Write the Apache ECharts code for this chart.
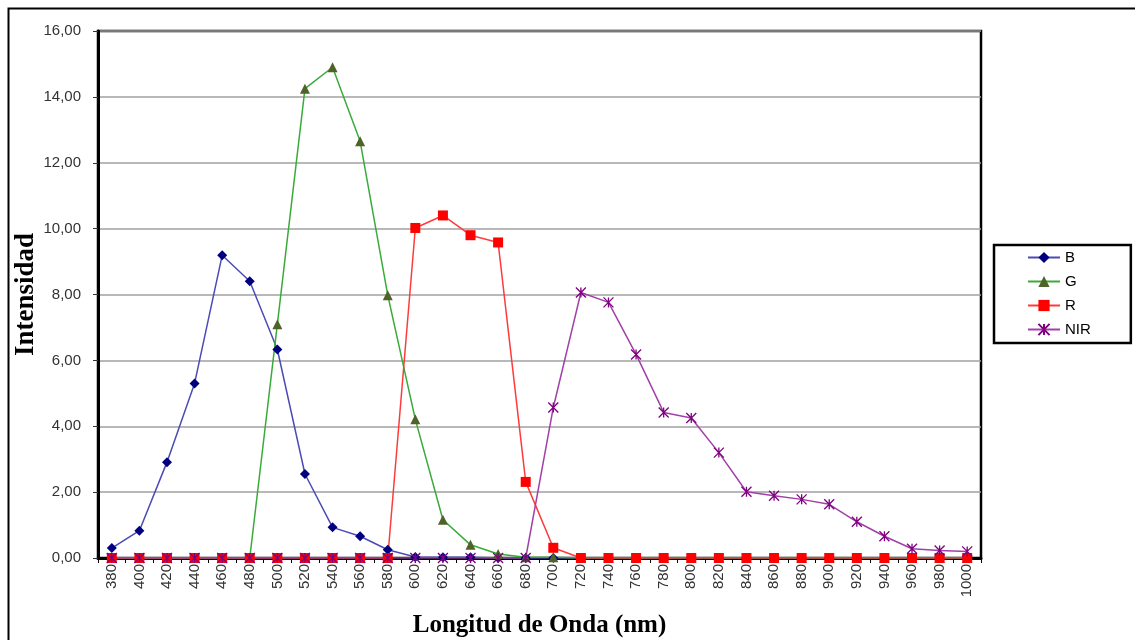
<!DOCTYPE html>
<html>
<head>
<meta charset="utf-8">
<script src="https://cdn.jsdelivr.net/npm/echarts@6/dist/echarts.min.js"></script>
<style>
html,body{margin:0;padding:0;background:#fff;}
#chart{width:1135px;height:640px;}
</style>
</head>
<body>
<div id="chart"></div>
<script>
var categories = ['380','400','420','440','460','480','500','520','540','560','580','600','620','640','660','680','700','720','740','760','780','800','820','840','860','880','900','920','940','960','980','1000'];
var bValues = [0.30,0.83,2.91,5.30,9.19,8.40,6.33,2.55,0.93,0.66,0.25,0.03,0.02,0.02,0,0,0,0,0,0,0,0,0,0,0,0,0,0,0,0,0,0];
var gValues = [0,0,0,0,0,0,7.10,14.25,14.90,12.65,7.98,4.21,1.16,0.40,0.12,0.02,0.02,0,0,0,0,0,0,0,0,0,0,0,0,0,0,0];
var rValues = [0,0,0,0,0,0,0,0,0,0,0,10.02,10.40,9.80,9.58,2.31,0.31,0,0,0,0,0,0,0,0,0,0,0,0,0,0,0];
var nirValues = [0,0,0,0,0,0,0,0,0,0,0,0,0,0,0,0,4.57,8.06,7.76,6.18,4.42,4.25,3.20,2.01,1.89,1.78,1.63,1.10,0.66,0.28,0.23,0.20];
var yTicks = [0,2,4,6,8,10,12,14,16];

var chart = echarts.init(document.getElementById('chart'), null, {renderer:'canvas'});
var starPath = 'path://M0,0L10,10M10,0L0,10M5,0L5,10';
function mk(name, data, lineColor, symbol, size, markColor, extra){
  return {
    name: name, type: 'line', data: data, showAllSymbol: true,
    symbol: symbol, symbolSize: size,
    lineStyle: {color: lineColor, width: 1.5},
    itemStyle: Object.assign({color: markColor}, extra || {}),
    emphasis: {disabled: true}
  };
}
chart.setOption({
  animation: false,
  backgroundColor: '#fff',
  grid: {left: 98, top: 31, right: 154, bottom: 82, show: true, borderColor: '#000', borderWidth: 2.5,
         containLabel: false, outerBoundsMode: 'none'},
  legend: {
    orient: 'vertical', left: 994, top: 245,
    data: ['B','G','R','NIR'],
    itemWidth: 32, itemHeight: 14, itemGap: 9,
    padding: [5, 40, 6, 33],
    borderColor: '#000', borderWidth: 2.5,
    textStyle: {fontFamily: 'Liberation Sans, Arial', fontSize: 15, color: '#000'}
  },
  xAxis: {
    type: 'category', data: categories, boundaryGap: true,
    name: 'Longitud de Onda (nm)', nameLocation: 'middle', nameGap: 55,
    nameTextStyle: {fontFamily: 'Liberation Serif, Times New Roman', fontWeight: 'bold', fontSize: 25, color: '#000'},
    axisLine: {lineStyle: {color: '#000', width: 3}},
    axisTick: {show: true, interval: 0, length: 5, lineStyle: {color: '#000', width: 1}},
    axisLabel: {interval: 0, rotate: 90, margin: 6, fontFamily: 'Liberation Sans, Arial', fontSize: 15, color: '#333'},
    splitLine: {show: false}
  },
  yAxis: {
    type: 'value', min: 0, max: 16, interval: 2,
    name: 'Intensidad', nameLocation: 'middle', nameRotate: 90, nameGap: 58, nameMoveOverlap: false,
    nameTextStyle: {fontFamily: 'Liberation Serif, Times New Roman', fontWeight: 'bold', fontSize: 27, color: '#000'},
    axisLine: {show: true, lineStyle: {color: '#000', width: 3}},
    axisTick: {show: true, length: 5, lineStyle: {color: '#333', width: 1}},
    axisLabel: {margin: 17, fontFamily: 'Liberation Sans, Arial', fontSize: 15, color: '#333',
      formatter: function(v){ return v.toFixed(2).replace('.', ','); }},
    splitLine: {show: true, lineStyle: {color: '#a0a0a0', width: 1.5}}
  },
  graphic: [{
    type: 'rect', left: 6, top: 6, silent: true, z: -1,
    shape: {x: 0, y: 0, width: 1200, height: 700},
    style: {fill: 'none', stroke: '#000', lineWidth: 2}
  }],
  series: [
    mk('B', bValues, '#4b4bb5', 'diamond', 10, '#000080'),
    mk('G', gValues, '#3aaa3a', 'triangle', 10, '#4f6228'),
    mk('R', rValues, '#ff3a3a', 'rect', 10, '#ff0000'),
    mk('NIR', nirValues, '#a040a8', starPath, 10, '#800080', {borderColor: '#800080', borderWidth: 1.3})
  ]
});
</script>
</body>
</html>
